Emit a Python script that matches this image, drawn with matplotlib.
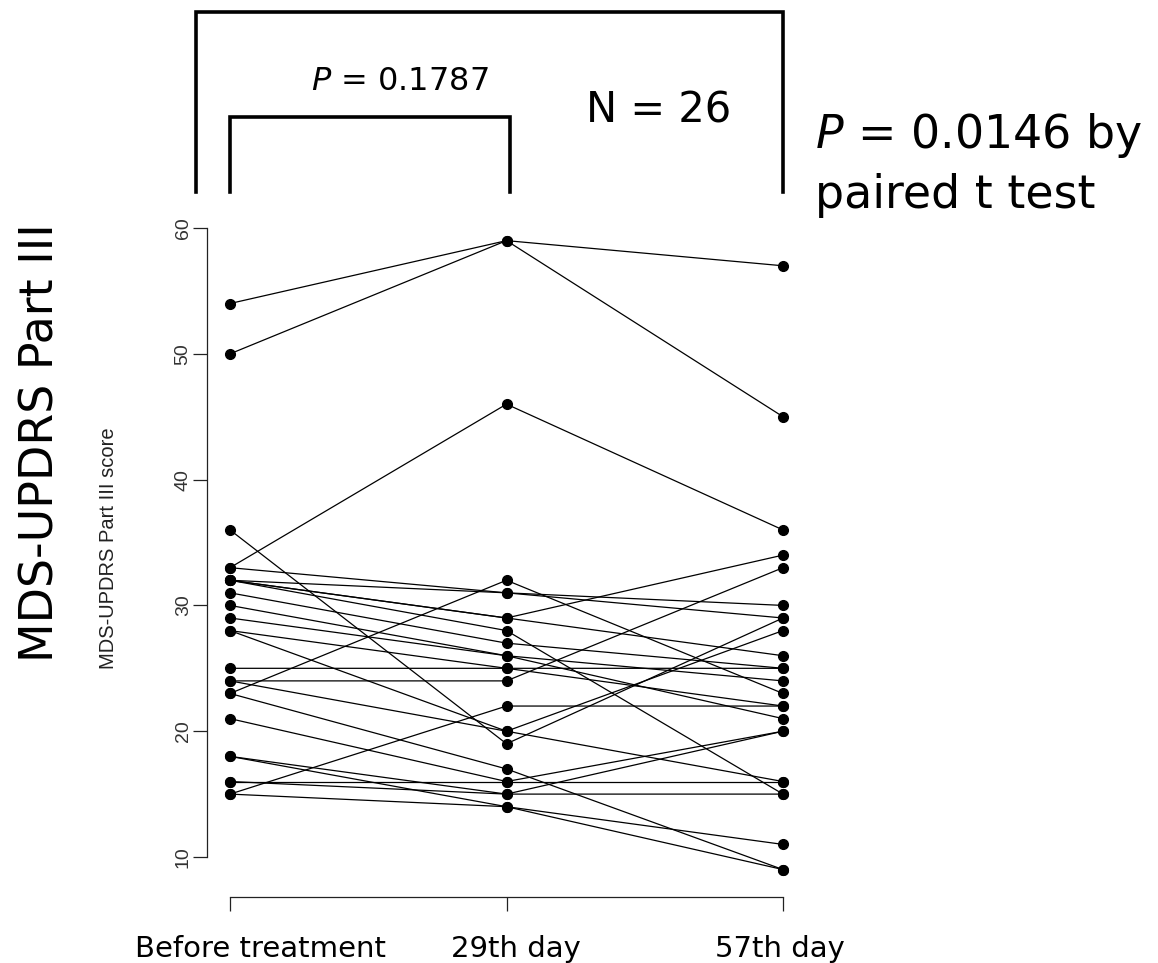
import matplotlib
matplotlib.use("Agg")
import matplotlib.pyplot as plt

# time points and tick labels
visits = [1, 2, 3]
visit_labels = ["Before treatment", "29th day", "57th day"]

# MDS-UPDRS Part III score per patient
before = [54, 50, 33, 33, 32, 36, 32, 32, 32, 31, 30, 29, 28,
          25, 28, 24, 24, 23, 23, 21, 16, 18, 16, 18, 15, 15]
day29 = [59, 59, 46, 31, 31, 19, 29, 29, 28, 27, 26, 26, 25,
         25, 20, 20, 24, 32, 17, 16, 16, 15, 15, 14, 14, 22]
day57 = [57, 45, 36, 30, 29, 29, 34, 26, 15, 25, 24, 21, 25,
         22, 28, 16, 33, 23, 9, 20, 16, 15, 20, 11, 9, 22]

y_ticks = [10, 20, 30, 40, 50, 60]

fig = plt.figure(figsize=(11.58, 9.63), dpi=100)
ax = fig.add_axes([0.17876, 0.06854, 0.5121, 0.70301])

for a, b, c in zip(before, day29, day57):
    ax.plot(visits, [a, b, c], color="black", lw=0.9,
            marker="o", ms=7, mfc="black", mec="black")

ax.set_xlim(0.9168, 3.0615)
ax.set_ylim(6.82, 60.64)

# R style axes
for s in ["top", "right"]:
    ax.spines[s].set_visible(False)
ax.spines["left"].set_bounds(10, 60)
ax.spines["bottom"].set_bounds(1, 3)
ax.spines["left"].set_linewidth(0.9)
ax.spines["bottom"].set_linewidth(0.9)
ax.spines["left"].set_color("#222222")
ax.spines["bottom"].set_color("#222222")

ax.set_yticks(y_ticks)
ax.set_yticklabels([str(v) for v in y_ticks], rotation=90, va="center",
                   fontsize=14, family="Liberation Sans", color="#333333")
ax.tick_params(axis="y", length=10, width=0.9, pad=1, color="#222222")
ax.set_xticks(visits)
ax.set_xticklabels([])
ax.tick_params(axis="x", length=10, width=0.9, color="#222222")

# x labels (slightly off-centre like the original)
label_shift = [22, 7, -2]
for x, lab, dx in zip(visits, visit_labels, label_shift):
    ax.annotate(lab, xy=(x, 0), xycoords=ax.get_xaxis_transform(),
                xytext=(dx, -43), textcoords="offset points",
                ha="center", va="baseline", fontsize=21)

# axis titles
fig.text(108 / 1158, 1 - 548 / 963, "MDS-UPDRS Part III score", rotation=90,
         ha="center", va="center", fontsize=14.5, family="Liberation Sans",
         color="#222222")
fig.text(41 / 1158, 1 - 443 / 963, "MDS-UPDRS Part III", rotation=90,
         ha="center", va="center", fontsize=33)

# significance brackets
bw = 2.6
ax.plot([0.877, 0.877, 3.0, 3.0], [62.86, 77.17, 77.17, 62.86],
        color="black", lw=bw, clip_on=False, solid_joinstyle="miter")
ax.plot([1.0, 1.0, 2.013, 2.013], [62.86, 68.82, 68.82, 62.86],
        color="black", lw=bw, clip_on=False, solid_joinstyle="miter")

ax.text(1.615, 70.97, "$P$ = 0.1787", ha="center", va="baseline",
        fontsize=23, clip_on=False)
ax.text(2.551, 68.43, "N = 26", ha="center", va="baseline",
        fontsize=30, clip_on=False)

fig.text(815 / 1158, 1 - 148 / 963, "$P$ = 0.0146 by", ha="left",
         va="baseline", fontsize=33)
fig.text(815 / 1158, 1 - 208 / 963, "paired t test", ha="left",
         va="baseline", fontsize=33)

fig.savefig("out.png", dpi=100)
